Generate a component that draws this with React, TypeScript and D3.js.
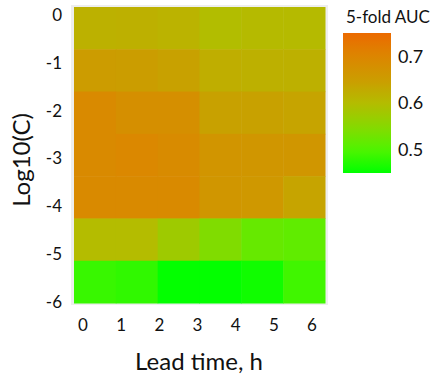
import React, { useEffect, useRef } from 'react';
import * as d3 from 'd3';

// lead time tick labels (x) and log10(C) rows (y)
const leadTicks = [0, 1, 2, 3, 4, 5, 6];
const logCTicks = [0, -1, -2, -3, -4, -5, -6];
const columns = ['c0', 'c1', 'c2', 'c3', 'c4', 'c5'];
const rows = ['0', '-1', '-2', '-3', '-4', '-5', '-6'];

// 5-fold AUC, one array per row
const auc0 = [0.617, 0.619, 0.614, 0.598, 0.603, 0.603];
const auc1 = [0.65, 0.648, 0.642, 0.622, 0.619, 0.619];
const auc2 = [0.692, 0.679, 0.679, 0.642, 0.642, 0.638];
const auc3 = [0.692, 0.696, 0.688, 0.667, 0.663, 0.663];
const auc4 = [0.692, 0.692, 0.692, 0.663, 0.658, 0.638];
const auc5 = [0.6, 0.6, 0.575, 0.543, 0.52, 0.514];
const auc6 = [0.485, 0.48, 0.452, 0.452, 0.46, 0.49];
const aucRows = [auc0, auc1, auc2, auc3, auc4, auc5, auc6];

const legendTicks = [0.5, 0.6, 0.7];
const colorStops = [0.45, 0.5, 0.55, 0.6, 0.65, 0.7, 0.75];
const colorRange = ['#00ff00', '#50f400', '#88d800', '#b4bc00', '#cc9c00', '#dc8600', '#ec6a00'];

const W = 431;
const H = 377;
const FONT = 'Lato, "Open Sans", sans-serif';

const App = () => {
  const svgRef = useRef<SVGSVGElement>(null);

  useEffect(() => {
    const svg = d3.select(svgRef.current);
    svg.selectAll('*').remove();

    const color = d3.scaleLinear<string>().domain(colorStops).range(colorRange).clamp(true);

    // cell grid
    const x = d3.scaleBand().domain(columns).range([74, 325]);
    const y = d3.scaleBand().domain(rows).range([7, 303]);
    // tick label positions (not aligned with cells in the original)
    const xt = d3.scaleLinear().domain([0, 6]).range([83, 312]);
    const yt = d3.scaleLinear().domain([0, -6]).range([15, 302]);

    svg
      .append('rect')
      .attr('x', 71)
      .attr('y', 5)
      .attr('width', 257)
      .attr('height', 300)
      .attr('fill', '#eeeeee');

    const cells: { r: string; c: string; v: number }[] = [];
    aucRows.forEach((vals, i) => {
      vals.forEach((v, j) => cells.push({ r: rows[i], c: columns[j], v }));
    });

    svg
      .append('g')
      .selectAll('rect')
      .data(cells)
      .join('rect')
      .attr('x', (d) => x(d.c)!)
      .attr('y', (d) => y(d.r)!)
      .attr('width', x.bandwidth() + 0.5)
      .attr('height', y.bandwidth() + 0.5)
      .attr('fill', (d) => color(d.v));

    // tick labels
    svg
      .append('g')
      .selectAll('text')
      .data(leadTicks)
      .join('text')
      .attr('x', (d) => xt(d))
      .attr('y', 325)
      .attr('dy', '0.35em')
      .attr('text-anchor', 'middle')
      .style('font-family', FONT)
      .style('font-size', '17px')
      .attr('fill', '#111')
      .text((d) => d);

    svg
      .append('g')
      .selectAll('text')
      .data(logCTicks)
      .join('text')
      .attr('x', 62)
      .attr('y', (d) => yt(d))
      .attr('dy', '0.35em')
      .attr('text-anchor', 'end')
      .style('font-family', FONT)
      .style('font-size', '17px')
      .attr('fill', '#111')
      .text((d) => d);

    // axis titles
    svg
      .append('text')
      .attr('x', 199)
      .attr('y', 370)
      .attr('text-anchor', 'middle')
      .style('font-family', FONT)
      .style('font-size', '24px')
      .attr('fill', '#111')
      .text('Lead time, h');

    svg
      .append('text')
      .attr('transform', 'translate(30,160) rotate(-90)')
      .attr('text-anchor', 'middle')
      .style('font-family', FONT)
      .style('font-size', '24px')
      .attr('fill', '#111')
      .text('Log10(C)');

    // legend
    const ly = d3.scaleLinear().domain([0.45, 0.75]).range([173, 33]);
    const grad = svg
      .append('defs')
      .append('linearGradient')
      .attr('id', 'aucGrad')
      .attr('x1', 0)
      .attr('y1', 1)
      .attr('x2', 0)
      .attr('y2', 0);
    grad
      .selectAll('stop')
      .data(d3.range(0, 1.0001, 0.05))
      .join('stop')
      .attr('offset', (d) => d)
      .attr('stop-color', (d) => color(0.45 + d * 0.3));

    svg
      .append('rect')
      .attr('x', 343)
      .attr('y', ly(0.75))
      .attr('width', 48)
      .attr('height', ly(0.45) - ly(0.75))
      .attr('fill', 'url(#aucGrad)');

    svg
      .append('g')
      .selectAll('text')
      .data(legendTicks)
      .join('text')
      .attr('x', 398)
      .attr('y', (d) => ly(d))
      .attr('dy', '0.35em')
      .style('font-family', FONT)
      .style('font-size', '18px')
      .attr('fill', '#111')
      .text((d) => d.toFixed(1));

    svg
      .append('text')
      .attr('x', 346)
      .attr('y', 23)
      .style('font-family', FONT)
      .style('font-size', '17px')
      .attr('fill', '#111')
      .text('5-fold AUC');
  }, []);

  return (
    <svg
      ref={svgRef}
      width={W}
      height={H}
      style={{ position: 'absolute', left: 0, top: 0, background: '#fff' }}
    />
  );
};

export default App;
